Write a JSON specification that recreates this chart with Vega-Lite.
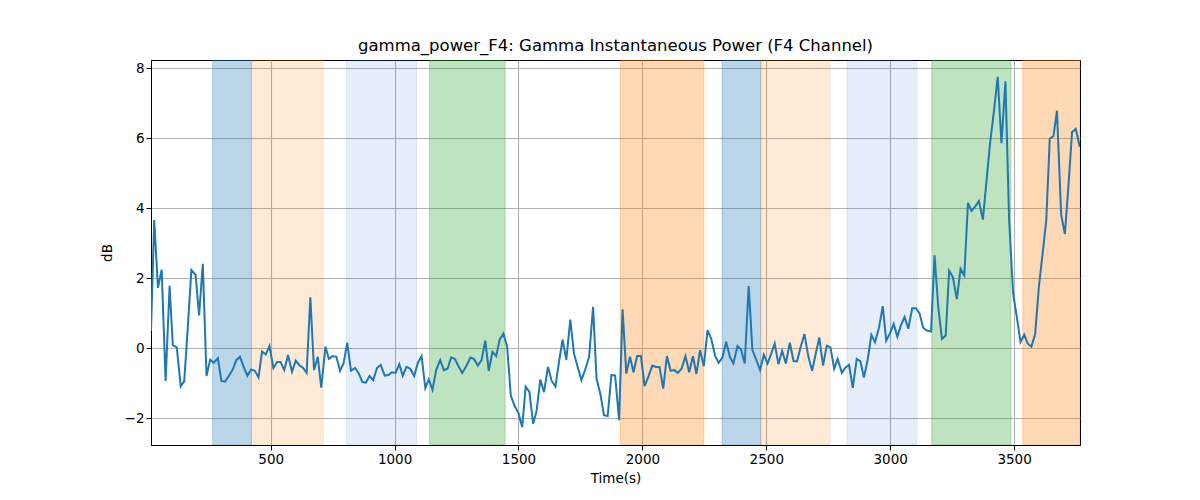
{
  "$schema": "https://vega.github.io/schema/vega-lite/v6.json",
  "autosize": {"type": "none"},
  "padding": {"left": 151, "top": 60, "right": 120, "bottom": 55},
  "width": 929,
  "height": 385,
  "background": "white",
  "title": {
    "text": "gamma_power_F4: Gamma Instantaneous Power (F4 Channel)",
    "font": "DejaVu Sans",
    "fontSize": 16.5,
    "fontWeight": "normal",
    "color": "black",
    "anchor": "middle",
    "offset": 6
  },
  "config": {
    "view": {"stroke": "black", "strokeWidth": 1},
    "axis": {
      "labelFont": "DejaVu Sans",
      "labelFontSize": 13.5,
      "labelColor": "black",
      "titleFont": "DejaVu Sans",
      "titleFontSize": 13.5,
      "titleFontWeight": "normal",
      "titleColor": "black",
      "domainColor": "black",
      "tickColor": "black",
      "tickSize": 5,
      "gridColor": "#b0b0b0",
      "gridWidth": 1.1
    }
  },
  "datasets": {
    "bands": [
      {"start": 266, "end": 422, "kind": "blue"},
      {"start": 422, "end": 712, "kind": "peach"},
      {"start": 806, "end": 1089, "kind": "lightblue"},
      {"start": 1141, "end": 1446, "kind": "green"},
      {"start": 1911, "end": 2248, "kind": "orange"},
      {"start": 2322, "end": 2478, "kind": "blue"},
      {"start": 2478, "end": 2757, "kind": "peach"},
      {"start": 2826, "end": 3107, "kind": "lightblue"},
      {"start": 3168, "end": 3487, "kind": "green"},
      {"start": 3535, "end": 3766, "kind": "orange"}
    ],
    "series": [
      {"t": 17, "db": 0.5}, {"t": 30, "db": 3.67}, {"t": 45, "db": 1.73}, {"t": 60, "db": 2.25},
      {"t": 76, "db": -0.93}, {"t": 92, "db": 1.79}, {"t": 105, "db": 0.09}, {"t": 121, "db": 0.03},
      {"t": 137, "db": -1.08}, {"t": 151, "db": -0.94}, {"t": 166, "db": 0.65}, {"t": 180, "db": 2.24},
      {"t": 197, "db": 2.10}, {"t": 211, "db": 0.94}, {"t": 226, "db": 2.42}, {"t": 241, "db": -0.79},
      {"t": 256, "db": -0.32}, {"t": 270, "db": -0.41}, {"t": 287, "db": -0.28}, {"t": 301, "db": -0.93},
      {"t": 316, "db": -0.95}, {"t": 331, "db": -0.79}, {"t": 347, "db": -0.60}, {"t": 362, "db": -0.33},
      {"t": 376, "db": -0.24}, {"t": 391, "db": -0.53}, {"t": 406, "db": -0.78}, {"t": 421, "db": -0.60},
      {"t": 436, "db": -0.64}, {"t": 451, "db": -0.83}, {"t": 465, "db": -0.09}, {"t": 480, "db": -0.17},
      {"t": 495, "db": 0.07}, {"t": 511, "db": -0.56}, {"t": 526, "db": -0.39}, {"t": 540, "db": -0.39},
      {"t": 555, "db": -0.62}, {"t": 570, "db": -0.19}, {"t": 586, "db": -0.67}, {"t": 601, "db": -0.35},
      {"t": 616, "db": -0.48}, {"t": 630, "db": -0.55}, {"t": 645, "db": -0.70}, {"t": 660, "db": 1.46},
      {"t": 675, "db": -0.62}, {"t": 690, "db": -0.24}, {"t": 704, "db": -1.12}, {"t": 721, "db": 0.05},
      {"t": 735, "db": -0.30}, {"t": 750, "db": -0.22}, {"t": 765, "db": -0.24}, {"t": 780, "db": -0.64},
      {"t": 794, "db": -0.43}, {"t": 809, "db": 0.16}, {"t": 824, "db": -0.64}, {"t": 840, "db": -0.56},
      {"t": 855, "db": -0.71}, {"t": 870, "db": -0.96}, {"t": 884, "db": -0.98}, {"t": 899, "db": -0.79},
      {"t": 914, "db": -0.91}, {"t": 929, "db": -0.56}, {"t": 944, "db": -0.47}, {"t": 960, "db": -0.78},
      {"t": 975, "db": -0.76}, {"t": 989, "db": -0.68}, {"t": 1004, "db": -0.70}, {"t": 1019, "db": -0.45},
      {"t": 1033, "db": -0.78}, {"t": 1048, "db": -0.53}, {"t": 1063, "db": -0.58}, {"t": 1079, "db": -0.79},
      {"t": 1094, "db": -0.41}, {"t": 1109, "db": -0.22}, {"t": 1124, "db": -1.13}, {"t": 1138, "db": -0.89},
      {"t": 1153, "db": -1.18}, {"t": 1168, "db": -0.61}, {"t": 1184, "db": -0.33}, {"t": 1199, "db": -0.62},
      {"t": 1214, "db": -0.58}, {"t": 1228, "db": -0.26}, {"t": 1243, "db": -0.30}, {"t": 1258, "db": -0.51},
      {"t": 1273, "db": -0.70}, {"t": 1291, "db": -0.48}, {"t": 1306, "db": -0.26}, {"t": 1320, "db": -0.30},
      {"t": 1336, "db": -0.49}, {"t": 1351, "db": -0.33}, {"t": 1366, "db": 0.22}, {"t": 1380, "db": -0.64},
      {"t": 1395, "db": -0.10}, {"t": 1410, "db": -0.22}, {"t": 1424, "db": 0.25}, {"t": 1439, "db": 0.42},
      {"t": 1454, "db": 0.06}, {"t": 1469, "db": -1.35}, {"t": 1484, "db": -1.64}, {"t": 1500, "db": -1.85},
      {"t": 1515, "db": -2.25}, {"t": 1529, "db": -1.09}, {"t": 1544, "db": -1.24}, {"t": 1559, "db": -2.15},
      {"t": 1573, "db": -1.79}, {"t": 1588, "db": -0.89}, {"t": 1603, "db": -1.25}, {"t": 1619, "db": -0.53},
      {"t": 1634, "db": -0.93}, {"t": 1649, "db": -1.09}, {"t": 1664, "db": -0.36}, {"t": 1678, "db": 0.25},
      {"t": 1693, "db": -0.33}, {"t": 1709, "db": 0.82}, {"t": 1724, "db": -0.15}, {"t": 1739, "db": -0.53},
      {"t": 1754, "db": -0.91}, {"t": 1769, "db": -0.61}, {"t": 1785, "db": -0.25}, {"t": 1801, "db": 1.19},
      {"t": 1815, "db": -0.87}, {"t": 1830, "db": -1.29}, {"t": 1845, "db": -1.91}, {"t": 1860, "db": -1.93},
      {"t": 1875, "db": -0.76}, {"t": 1890, "db": -0.77}, {"t": 1906, "db": -2.05}, {"t": 1920, "db": 1.12},
      {"t": 1935, "db": -0.72}, {"t": 1950, "db": -0.24}, {"t": 1964, "db": -0.68}, {"t": 1979, "db": -0.22},
      {"t": 1994, "db": -0.22}, {"t": 2009, "db": -1.08}, {"t": 2025, "db": -0.79}, {"t": 2040, "db": -0.49},
      {"t": 2055, "db": -0.53}, {"t": 2069, "db": -0.53}, {"t": 2084, "db": -1.15}, {"t": 2099, "db": -0.22},
      {"t": 2114, "db": -0.64}, {"t": 2128, "db": -0.62}, {"t": 2143, "db": -0.70}, {"t": 2158, "db": -0.58},
      {"t": 2174, "db": -0.22}, {"t": 2189, "db": -0.68}, {"t": 2204, "db": -0.22}, {"t": 2218, "db": -0.73},
      {"t": 2233, "db": -0.05}, {"t": 2248, "db": -0.51}, {"t": 2263, "db": 0.52}, {"t": 2278, "db": 0.27},
      {"t": 2294, "db": -0.22}, {"t": 2308, "db": -0.41}, {"t": 2323, "db": -0.26}, {"t": 2338, "db": 0.19},
      {"t": 2353, "db": -0.24}, {"t": 2367, "db": -0.43}, {"t": 2384, "db": 0.07}, {"t": 2398, "db": -0.03},
      {"t": 2413, "db": -0.43}, {"t": 2429, "db": 1.78}, {"t": 2444, "db": -0.05}, {"t": 2459, "db": -0.31},
      {"t": 2475, "db": -0.62}, {"t": 2490, "db": -0.18}, {"t": 2505, "db": -0.43}, {"t": 2520, "db": -0.15},
      {"t": 2534, "db": 0.14}, {"t": 2549, "db": -0.45}, {"t": 2564, "db": -0.07}, {"t": 2579, "db": -0.43},
      {"t": 2595, "db": 0.16}, {"t": 2610, "db": -0.36}, {"t": 2624, "db": -0.37}, {"t": 2639, "db": 0.05},
      {"t": 2654, "db": 0.41}, {"t": 2670, "db": -0.24}, {"t": 2685, "db": -0.64}, {"t": 2700, "db": -0.14},
      {"t": 2714, "db": 0.31}, {"t": 2729, "db": -0.49}, {"t": 2744, "db": 0.08}, {"t": 2759, "db": 0.03},
      {"t": 2774, "db": -0.58}, {"t": 2788, "db": -0.30}, {"t": 2805, "db": -0.70}, {"t": 2819, "db": -0.55},
      {"t": 2834, "db": -0.47}, {"t": 2849, "db": -1.13}, {"t": 2865, "db": -0.30}, {"t": 2880, "db": -0.37},
      {"t": 2894, "db": -0.83}, {"t": 2909, "db": -0.33}, {"t": 2924, "db": 0.39}, {"t": 2939, "db": 0.18},
      {"t": 2955, "db": 0.60}, {"t": 2970, "db": 1.21}, {"t": 2984, "db": 0.22}, {"t": 2999, "db": 0.43},
      {"t": 3014, "db": 0.70}, {"t": 3029, "db": 0.33}, {"t": 3043, "db": 0.65}, {"t": 3058, "db": 0.90},
      {"t": 3073, "db": 0.56}, {"t": 3089, "db": 1.15}, {"t": 3104, "db": 1.15}, {"t": 3119, "db": 0.99},
      {"t": 3133, "db": 0.59}, {"t": 3148, "db": 0.51}, {"t": 3165, "db": 0.48}, {"t": 3179, "db": 2.66},
      {"t": 3194, "db": 1.18}, {"t": 3209, "db": 0.27}, {"t": 3224, "db": 0.37}, {"t": 3238, "db": 2.22},
      {"t": 3253, "db": 2.03}, {"t": 3269, "db": 1.41}, {"t": 3284, "db": 2.27}, {"t": 3299, "db": 2.08},
      {"t": 3314, "db": 4.16}, {"t": 3328, "db": 3.93}, {"t": 3343, "db": 4.05}, {"t": 3358, "db": 4.21},
      {"t": 3374, "db": 3.68}, {"t": 3389, "db": 4.81}, {"t": 3403, "db": 5.86}, {"t": 3419, "db": 6.8},
      {"t": 3434, "db": 7.76}, {"t": 3449, "db": 5.86}, {"t": 3465, "db": 7.63}, {"t": 3480, "db": 3.67},
      {"t": 3496, "db": 1.57}, {"t": 3511, "db": 0.90}, {"t": 3526, "db": 0.18}, {"t": 3541, "db": 0.39},
      {"t": 3555, "db": 0.14}, {"t": 3570, "db": 0.05}, {"t": 3585, "db": 0.41}, {"t": 3600, "db": 1.76},
      {"t": 3615, "db": 2.7}, {"t": 3630, "db": 3.67}, {"t": 3644, "db": 5.99}, {"t": 3659, "db": 6.07},
      {"t": 3673, "db": 6.79}, {"t": 3690, "db": 3.82}, {"t": 3705, "db": 3.27}, {"t": 3719, "db": 4.62},
      {"t": 3734, "db": 6.18}, {"t": 3749, "db": 6.27}, {"t": 3765, "db": 5.76}
    ]
  },
  "layer": [
    {
      "data": {"name": "bands"},
      "mark": {"type": "rect", "clip": true, "strokeWidth": 1},
      "encoding": {
        "x": {
          "field": "start",
          "type": "quantitative",
          "scale": {"domain": [17, 3766], "nice": false, "zero": false},
          "axis": {
            "title": "Time(s)",
            "values": [500, 1000, 1500, 2000, 2500, 3000, 3500],
            "format": "d",
            "labelFlush": false,
            "titlePadding": 6
          }
        },
        "x2": {"field": "end"},
        "fill": {
          "field": "kind",
          "type": "nominal",
          "legend": null,
          "scale": {
            "domain": ["blue", "peach", "lightblue", "green", "orange"],
            "range": ["rgba(31,119,180,0.3)", "rgba(255,127,14,0.16)", "rgba(31,100,200,0.11)", "rgba(44,160,44,0.3)", "rgba(255,127,14,0.3)"]
          }
        },
        "stroke": {
          "field": "kind",
          "type": "nominal",
          "legend": null,
          "scale": {
            "domain": ["blue", "peach", "lightblue", "green", "orange"],
            "range": ["rgba(31,119,180,0.3)", "rgba(255,127,14,0.16)", "rgba(31,100,200,0.11)", "rgba(44,160,44,0.3)", "rgba(255,127,14,0.3)"]
          }
        }
      }
    },
    {
      "data": {"name": "series"},
      "mark": {"type": "line", "color": "#1f77b4", "strokeWidth": 2, "clip": true},
      "encoding": {
        "x": {"field": "t", "type": "quantitative"},
        "y": {
          "field": "db",
          "type": "quantitative",
          "scale": {"domain": [-2.76, 8.24], "nice": false, "zero": false},
          "axis": {
            "title": "dB",
            "values": [-2, 0, 2, 4, 6, 8],
            "labelExpr": "replace(datum.label, '-', '\u2212')",
            "titlePadding": 10
          }
        }
      }
    }
  ]
}
